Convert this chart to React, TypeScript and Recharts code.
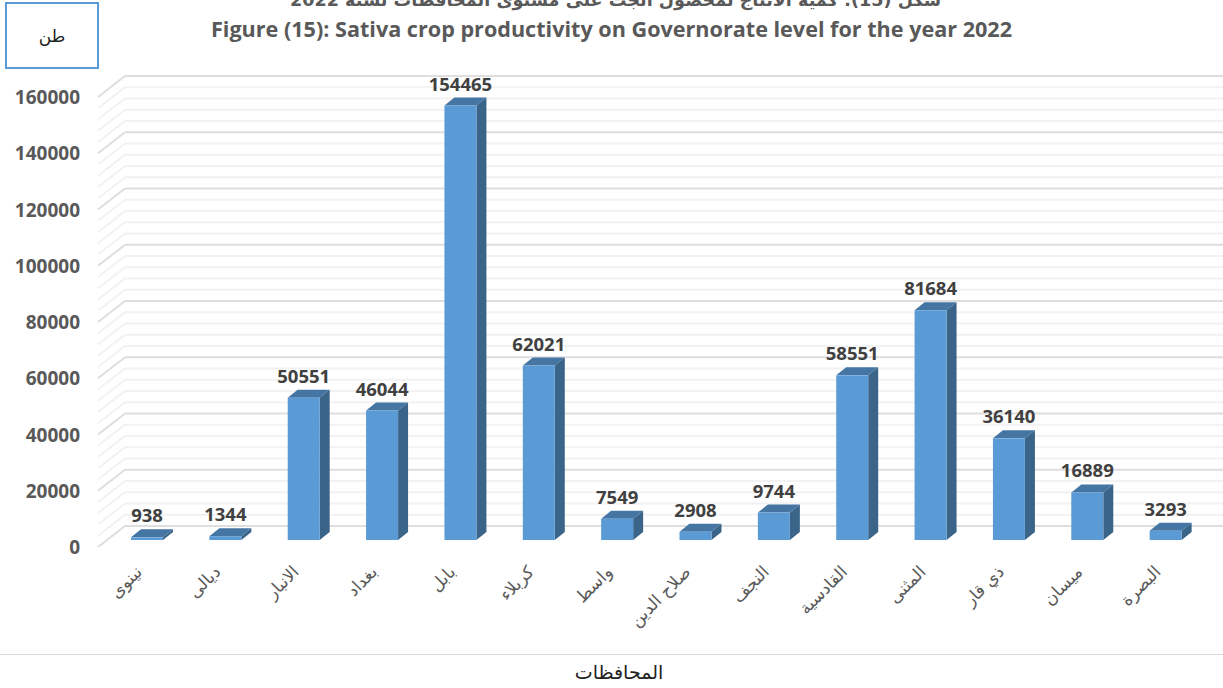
import React from 'react';
import { BarChart, Bar, XAxis, YAxis, CartesianGrid, LabelList } from 'recharts';

const governorates = ['نينوى', 'ديالى', 'الانبار', 'بغداد', 'بابل', 'كربلاء', 'واسط', 'صلاح الدين', 'النجف', 'القادسية', 'المثنى', 'ذي قار', 'ميسان', 'البصرة'];
const production = [938, 1344, 50551, 46044, 154465, 62021, 7549, 2908, 9744, 58551, 81684, 36140, 16889, 3293];
const yTicks = [0, 20000, 40000, 60000, 80000, 100000, 120000, 140000, 160000];
const gridValues = [0, 4000, 8000, 12000, 16000, 20000, 24000, 28000, 32000, 36000, 40000, 44000, 48000, 52000, 56000, 60000, 64000, 68000, 72000, 76000, 80000, 84000, 88000, 92000, 96000, 100000, 104000, 108000, 112000, 116000, 120000, 124000, 128000, 132000, 136000, 140000, 144000, 148000, 152000, 156000, 160000];

const data = governorates.map((name, i) => ({ name, value: production[i] }));

const FONT = '"Open Sans", sans-serif';
const ARABIC = '"DejaVu Sans", sans-serif';

// one wall + floor line of the fake 3D grid
const GridLine = (props: any) => {
  const { y1, index } = props;
  const major = index % 5 === 0;
  const stroke = major ? '#dedede' : '#f2f2f2';
  return (
    <g>
      <line x1={98} y1={y1 + 7} x2={125} y2={y1 - 14} stroke={stroke} strokeWidth={2} />
      <line x1={125} y1={y1 - 14} x2={1223} y2={y1 - 14} stroke={stroke} strokeWidth={2} />
    </g>
  );
};

const Bar3D = (props: any) => {
  const { x, y, width, height } = props;
  const dx = 10;
  const dy = 8;
  return (
    <g>
      <polygon points={`${x},${y} ${x + dx},${y - dy} ${x + width + dx},${y - dy} ${x + width},${y}`} fill="#4475a3" />
      <polygon points={`${x + width},${y} ${x + width + dx},${y - dy} ${x + width + dx},${y + height - dy} ${x + width},${y + height}`} fill="#3b6489" />
      <rect x={x} y={y} width={width} height={height} fill="#5b9bd5" />
    </g>
  );
};

const YTick = (props: any) => {
  const { y, payload } = props;
  return (
    <text x={80} y={y + 7 + 7} textAnchor="end" fontFamily={FONT} fontWeight={700} fontSize={19} fill="#595959">
      {payload.value}
    </text>
  );
};

const XTick = (props: any) => {
  const { x, payload } = props;
  const px = x - 4;
  const py = 573;
  return (
    <text x={px} y={py} textAnchor="end" transform={`rotate(-45 ${px} ${py})`} fontFamily={ARABIC} fontSize={17} fill="#595959">
      {payload.value}
    </text>
  );
};

const App = () => {
  return (
    <div style={{ position: 'absolute', left: 0, top: 0, width: 1223, height: 688, background: '#fff', overflow: 'hidden' }}>
      <BarChart width={1223} height={688} data={data} margin={{ top: 90, right: 18, bottom: 0, left: 0 }} barSize={32}>
        <CartesianGrid vertical={false} horizontalValues={gridValues} horizontal={(p: any) => <GridLine {...p} />} />
        <XAxis dataKey="name" height={148} axisLine={false} tickLine={false} interval={0} tick={<XTick />} />
        <YAxis width={108} domain={[0, 160000]} ticks={yTicks} interval={0} axisLine={false} tickLine={false} tick={<YTick />} />
        <Bar dataKey="value" isAnimationActive={false} shape={<Bar3D />}>
          <LabelList dataKey="value" position="top" offset={15} fontFamily={FONT} fontWeight={700} fontSize={18.5} fill="#404040" />
        </Bar>
      </BarChart>
      <div style={{ position: 'absolute', left: 5, top: 2, width: 90, height: 63, border: '2px solid #5b9bd5', display: 'flex', alignItems: 'center', justifyContent: 'center', fontFamily: ARABIC, fontSize: 17, color: '#222' }}>طن</div>
      <div dir="rtl" style={{ position: 'absolute', left: 204, width: 823, top: -10, textAlign: 'center', fontFamily: ARABIC, fontWeight: 700, fontSize: 17.6, color: '#595959', whiteSpace: 'nowrap' }}>شكل (15): كمية الانتاج لمحصول الجت على مستوى المحافظات لسنة 2022</div>
      <div style={{ position: 'absolute', left: 0, width: 1223, top: 14, textAlign: 'center', fontFamily: FONT, fontWeight: 700, fontSize: 21.6, color: '#595959', whiteSpace: 'nowrap' }}>Figure (15): Sativa crop productivity on Governorate level for the year 2022</div>
      <div style={{ position: 'absolute', left: 0, width: 1223, top: 654, height: 1, background: '#d9d9d9' }} />
      <div style={{ position: 'absolute', left: 0, width: 1238, top: 661, textAlign: 'center', fontFamily: ARABIC, fontSize: 19, color: '#222' }}>المحافظات</div>
    </div>
  );
};

export default App;
